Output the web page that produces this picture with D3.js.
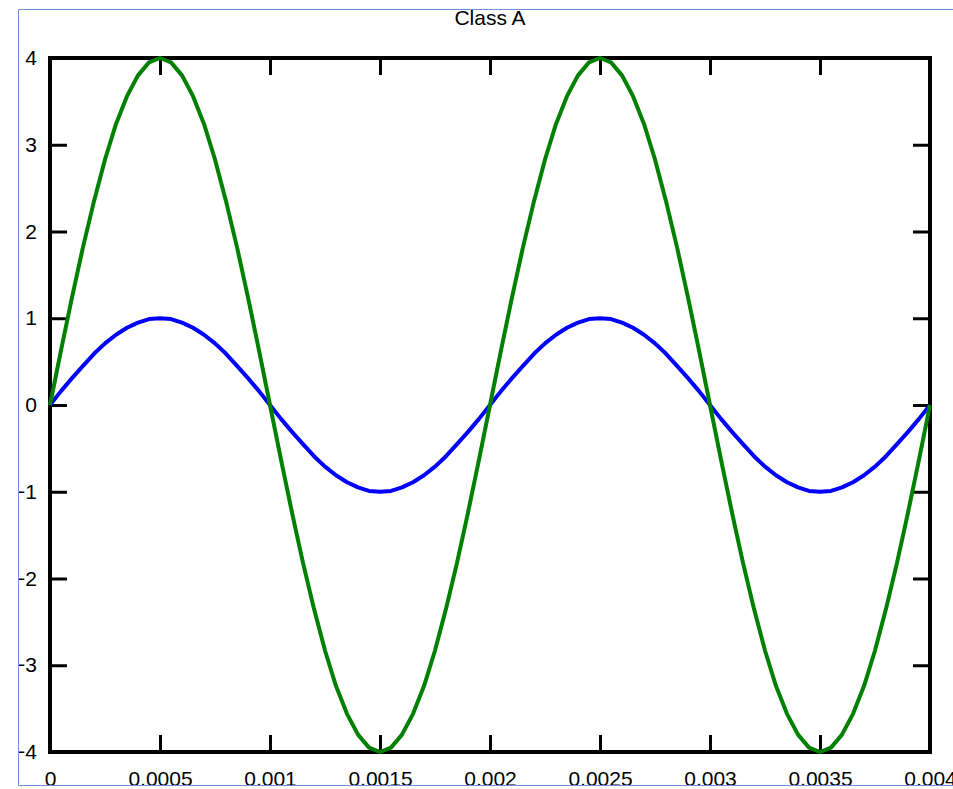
<!DOCTYPE html>
<html lang="en">
  <head>
    <meta charset="utf-8">
    <title>Class A</title>
    <script type="text/javascript" src="https://cdn.jsdelivr.net/npm/d3@7"></script>
    <style>
    body {
      margin: 0;
      background: #fff;
    }
    #chart text {
      font-family: "Liberation Sans", Arial, sans-serif;
      fill: #000;
    }
    </style>
  </head>
  <body>
    <div id="chart"></div>

    <script type="text/javascript">

      // sample times (s)
      var timeValues = [
        0, 0.00005, 0.0001, 0.00015, 0.0002, 0.00025, 0.0003, 0.00035, 0.0004, 0.00045,
        0.0005, 0.00055, 0.0006, 0.00065, 0.0007, 0.00075, 0.0008, 0.00085, 0.0009, 0.00095,
        0.001, 0.00105, 0.0011, 0.00115, 0.0012, 0.00125, 0.0013, 0.00135, 0.0014, 0.00145,
        0.0015, 0.00155, 0.0016, 0.00165, 0.0017, 0.00175, 0.0018, 0.00185, 0.0019, 0.00195,
        0.002, 0.00205, 0.0021, 0.00215, 0.0022, 0.00225, 0.0023, 0.00235, 0.0024, 0.00245,
        0.0025, 0.00255, 0.0026, 0.00265, 0.0027, 0.00275, 0.0028, 0.00285, 0.0029, 0.00295,
        0.003, 0.00305, 0.0031, 0.00315, 0.0032, 0.00325, 0.0033, 0.00335, 0.0034, 0.00345,
        0.0035, 0.00355, 0.0036, 0.00365, 0.0037, 0.00375, 0.0038, 0.00385, 0.0039, 0.00395,
        0.004
      ];

      // small signal (blue)
      var blueValues = [
        0, 0.16, 0.31, 0.45, 0.59, 0.71, 0.81, 0.89, 0.95, 0.99,
        1, 0.99, 0.95, 0.89, 0.81, 0.71, 0.59, 0.45, 0.31, 0.16,
        0, -0.16, -0.31, -0.45, -0.59, -0.71, -0.81, -0.89, -0.95, -0.99,
        -1, -0.99, -0.95, -0.89, -0.81, -0.71, -0.59, -0.45, -0.31, -0.16,
        0, 0.16, 0.31, 0.45, 0.59, 0.71, 0.81, 0.89, 0.95, 0.99,
        1, 0.99, 0.95, 0.89, 0.81, 0.71, 0.59, 0.45, 0.31, 0.16,
        0, -0.16, -0.31, -0.45, -0.59, -0.71, -0.81, -0.89, -0.95, -0.99,
        -1, -0.99, -0.95, -0.89, -0.81, -0.71, -0.59, -0.45, -0.31, -0.16,
        0
      ];

      // amplified signal (green)
      var greenValues = [
        0, 0.63, 1.24, 1.82, 2.35, 2.83, 3.24, 3.56, 3.8, 3.95,
        4, 3.95, 3.8, 3.56, 3.24, 2.83, 2.35, 1.82, 1.24, 0.63,
        0, -0.63, -1.24, -1.82, -2.35, -2.83, -3.24, -3.56, -3.8, -3.95,
        -4, -3.95, -3.8, -3.56, -3.24, -2.83, -2.35, -1.82, -1.24, -0.63,
        0, 0.63, 1.24, 1.82, 2.35, 2.83, 3.24, 3.56, 3.8, 3.95,
        4, 3.95, 3.8, 3.56, 3.24, 2.83, 2.35, 1.82, 1.24, 0.63,
        0, -0.63, -1.24, -1.82, -2.35, -2.83, -3.24, -3.56, -3.8, -3.95,
        -4, -3.95, -3.8, -3.56, -3.24, -2.83, -2.35, -1.82, -1.24, -0.63,
        0
      ];

      var xTicks = [0, 0.0005, 0.001, 0.0015, 0.002, 0.0025, 0.003, 0.0035, 0.004];
      var yTicks = [-4, -3, -2, -1, 0, 1, 2, 3, 4];
      var title = "Class A";

      var W = 953, H = 789;
      var plot = {left: 50, right: 930, top: 58, bottom: 752};
      var tickLen = 17;

      var svg = d3.select("#chart").append("svg")
          .attr("width", W)
          .attr("height", H);

      svg.append("defs").append("clipPath")
          .attr("id", "figclip")
        .append("rect")
          .attr("x", 19).attr("y", 10)
          .attr("width", W - 19).attr("height", H - 10);

      var fig = svg.append("g").attr("clip-path", "url(#figclip)");

      var x = d3.scaleLinear()
          .domain([0, 0.004])
          .range([plot.left, plot.right]);

      var y = d3.scaleLinear()
          .domain([-4, 4])
          .range([plot.bottom, plot.top]);

      var fmt = function(d) { return String(+d.toFixed(4)); };

      // axes: ticks point inward, labels outside
      var styleAxis = function(g) {
        g.select(".domain").remove();
        g.selectAll(".tick line").attr("stroke", "#000").attr("stroke-width", 3);
        g.selectAll(".tick text").style("font-size", "21px");
      };

      fig.append("g")
          .attr("transform", "translate(0," + plot.bottom + ")")
          .call(d3.axisBottom(x).tickValues(xTicks).tickFormat(fmt)
                .tickSizeInner(-tickLen).tickSizeOuter(0).tickPadding(19))
          .call(styleAxis);

      fig.append("g")
          .attr("transform", "translate(0," + plot.top + ")")
          .call(d3.axisTop(x).tickValues(xTicks).tickFormat("")
                .tickSizeInner(-tickLen).tickSizeOuter(0))
          .call(styleAxis);

      fig.append("g")
          .attr("transform", "translate(" + plot.left + ",0)")
          .call(d3.axisLeft(y).tickValues(yTicks).tickFormat(d3.format("d"))
                .tickSizeInner(-tickLen).tickSizeOuter(0).tickPadding(13))
          .call(styleAxis);

      fig.append("g")
          .attr("transform", "translate(" + plot.right + ",0)")
          .call(d3.axisRight(y).tickValues(yTicks).tickFormat("")
                .tickSizeInner(-tickLen).tickSizeOuter(0))
          .call(styleAxis);

      fig.selectAll("g .tick text").attr("fill", "#000");

      // frame
      fig.append("rect")
          .attr("x", plot.left).attr("y", plot.top)
          .attr("width", plot.right - plot.left)
          .attr("height", plot.bottom - plot.top)
          .attr("fill", "none")
          .attr("stroke", "#000")
          .attr("stroke-width", 4);

      var line = function(vals) {
        return d3.line()
          .x(function(d, i) { return x(timeValues[i]); })
          .y(function(d) { return y(d); })(vals);
      };

      fig.append("path")
          .attr("d", line(blueValues))
          .attr("fill", "none")
          .attr("stroke", "#0000ff")
          .attr("stroke-width", 4)
          .attr("stroke-linejoin", "round");

      fig.append("path")
          .attr("d", line(greenValues))
          .attr("fill", "none")
          .attr("stroke", "#008000")
          .attr("stroke-width", 4)
          .attr("stroke-linejoin", "round");

      fig.append("text")
          .attr("x", (plot.left + plot.right) / 2)
          .attr("y", 25)
          .attr("text-anchor", "middle")
          .style("font-size", "21px")
          .text(title);

      // thin figure border
      svg.append("path")
          .attr("d", "M" + W + ",9.5 H18.5 V785.5 H" + W)
          .attr("fill", "none")
          .attr("stroke", "#6d8fd6")
          .attr("stroke-width", 1);

    </script>
  </body>
</html>
